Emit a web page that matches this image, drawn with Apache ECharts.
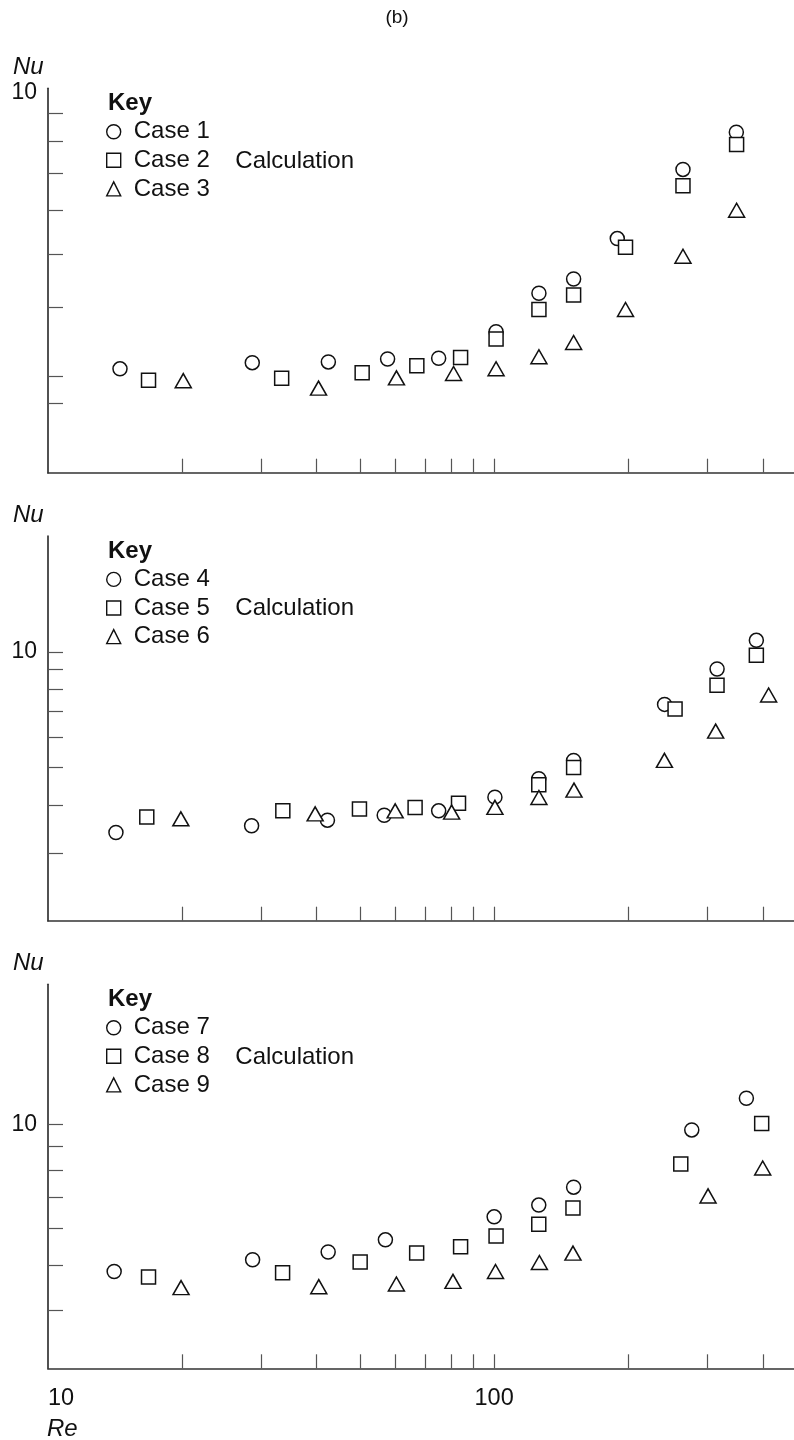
<!DOCTYPE html>
<html>
<head>
<meta charset="utf-8">
<style>
  html, body { margin: 0; padding: 0; background: #fff; }
  #chart { width: 794px; height: 1440px; }
</style>
<script src="https://cdn.jsdelivr.net/npm/echarts@6/dist/echarts.min.js"></script>
</head>
<body>
<div id="chart"></div>
<script>
// ---------------- DATA (Re, Nu) ----------------
const case1 = [[14.5,3.09],[28.7,3.17],[42.5,3.18],[57.7,3.22],[75.1,3.23],[101,3.61],[126,4.24],[150.7,4.50],[188.8,5.33],[265,7.12],[349,8.32]];
const case2 = [[16.8,2.945],[33.4,2.97],[50.6,3.04],[67.1,3.13],[84.1,3.24],[101,3.50],[126,3.96],[150.7,4.21],[197,5.14],[265,6.65],[349.5,7.90]];
const case3 = [[20.1,2.94],[40.4,2.85],[60.4,2.975],[81.1,3.03],[101,3.09],[126,3.25],[150.7,3.45],[197,3.96],[265,4.95],[349.5,6.00]];

const case4 = [[14.2,3.39],[28.6,3.53],[42.3,3.65],[56.7,3.76],[75.1,3.86],[100.4,4.19],[125.9,4.68],[150.7,5.22],[241,7.30],[316,9.02],[387,10.71]];
const case5 = [[16.65,3.72],[33.6,3.86],[49.9,3.90],[66.5,3.94],[83.2,4.04],[125.9,4.51],[150.7,5.00],[254.4,7.10],[315.9,8.18],[387,9.79]];
const case6 = [[19.85,3.68],[39.7,3.79],[60,3.86],[80.3,3.83],[100.4,3.94],[126,4.18],[151,4.37],[240.8,5.22],[313.7,6.22],[412.3,7.72]];

const case7 = [[14.07,4.84],[28.75,5.13],[42.46,5.33],[57.05,5.66],[100,6.34],[125.9,6.72],[150.7,7.34],[277.3,9.74],[367.6,11.39]];
const case8 = [[16.8,4.71],[33.56,4.81],[50.08,5.07],[67.04,5.30],[84.1,5.47],[101,5.77],[125.9,6.11],[150.2,6.62],[262,8.23],[397.8,10.06]];
const case9 = [[19.87,4.47],[40.45,4.49],[60.38,4.55],[80.86,4.61],[100.7,4.84],[126.3,5.06],[150.2,5.30],[301.6,7.03],[399.9,8.07]];

const caseNames = [['Case 1','Case 2','Case 3'],['Case 4','Case 5','Case 6'],['Case 7','Case 8','Case 9']];
const caseData  = [[case1,case2,case3],[case4,case5,case6],[case7,case8,case9]];

const reMin = 10, reMax = 470;
const reTicks = [20,30,40,50,60,70,80,90,100,200,300,400];
const reLabels = [10,100];
const nuRanges = [[2,10],[2,20],[3,20]];
const nuTicks = [[9,8,7,6,5,4,3,2.67],[10,9,8,7,6,5,4,3],[10,9,8,7,6,5,4]];
const nuLabels = [[10],[10],[10]];

// ---------------- LAYOUT ----------------
const FONT = '"Liberation Sans", Arial, Helvetica, sans-serif';
const INK = '#111';
const gridLeft = 48;
const panels = [
  {top: 88.3, height: 384.4, labelVA: 'top', labelLH: 8},
  {top: 536, height: 384.7, labelVA: 'middle', labelLH: 23},
  {top: 984.3, height: 384, labelVA: 'middle', labelLH: 23}
];
const symbols = ['circle','rect','triangle'];
const symbolSizes = [14, 14, [16,14]];

const chart = echarts.init(document.getElementById('chart'), null, {renderer: 'canvas'});

const grids = [], xAxes = [], yAxes = [], series = [], legends = [], graphics = [];

panels.forEach((p, i) => {
  grids.push({left: gridLeft, right: 0, top: p.top, height: p.height, containLabel: false});
  const isLast = i === panels.length - 1;
  xAxes.push({
    type: 'log', logBase: 10, gridIndex: i, min: reMin, max: reMax,
    axisLine: {show: true, lineStyle: {color: '#333', width: 1.7}},
    axisTick: {show: true, inside: true, length: 14, customValues: reTicks, lineStyle: {color: '#555', width: 1.2}},
    minorTick: {show: false},
    splitLine: {show: false},
    axisLabel: {show: isLast, customValues: reLabels, fontSize: 23.5, color: INK, fontFamily: FONT, margin: 18,
      alignMinLabel: 'left', formatter: v => String(Math.round(v))}
  });
  yAxes.push({
    type: 'log', logBase: 10, gridIndex: i, min: nuRanges[i][0], max: nuRanges[i][1],
    axisLine: {show: true, lineStyle: {color: '#333', width: 1.7}},
    axisTick: {show: true, inside: true, length: 15, customValues: nuTicks[i], lineStyle: {color: '#555', width: 1.2}},
    minorTick: {show: false},
    splitLine: {show: false},
    axisLabel: {show: true, customValues: nuLabels[i], fontSize: 23, color: INK, fontFamily: FONT, margin: 11,
      verticalAlign: p.labelVA, lineHeight: p.labelLH, formatter: v => String(Math.round(v))}
  });
  caseData[i].forEach((d, k) => {
    series.push({
      type: 'scatter', name: caseNames[i][k], xAxisIndex: i, yAxisIndex: i,
      data: d, symbol: symbols[k], symbolSize: symbolSizes[k],
      itemStyle: {color: '#fff', borderColor: INK, borderWidth: 1.5, opacity: 1},
      emphasis: {disabled: true}, silent: true, z: 2 + k
    });
  });
  legends.push({
    data: caseNames[i].map((n, k) => ({name: n, icon: symbols[k]})),
    orient: 'vertical', left: 106, top: p.top + 43.4 - 12,
    itemWidth: 14, itemHeight: 14, itemGap: 4.6, padding: 0,
    selectedMode: false,
    itemStyle: {color: '#fff', borderColor: INK, borderWidth: 1.4},
    textStyle: {fontSize: 24, color: INK, fontFamily: FONT, padding: [0, 0, 0, 8]}
  });
  graphics.push({
    type: 'text', left: 108, top: p.top + 13.4 - 10.5,
    style: {text: 'Key', font: 'bold 24px ' + FONT, fill: INK}
  });
  graphics.push({
    type: 'text', left: 235.3, top: p.top + 71.7 - 11,
    style: {text: 'Calculation', font: '24px ' + FONT, fill: INK}
  });
  graphics.push({
    type: 'text', left: 13, top: p.top - 22.6 - 10,
    style: {text: 'Nu', font: 'italic 24px ' + FONT, fill: INK}
  });
});

graphics.push({
  type: 'text', left: 47, top: 1427 - 10,
  style: {text: 'Re', font: 'italic 24px ' + FONT, fill: INK}
});
graphics.push({
  type: 'text', left: 'center', top: 17 - 9,
  style: {text: '(b)', font: '19px ' + FONT, fill: INK}
});

chart.setOption({
  animation: false,
  backgroundColor: '#fff',
  grid: grids,
  xAxis: xAxes,
  yAxis: yAxes,
  legend: legends,
  series: series,
  graphic: graphics
});
</script>
</body>
</html>
